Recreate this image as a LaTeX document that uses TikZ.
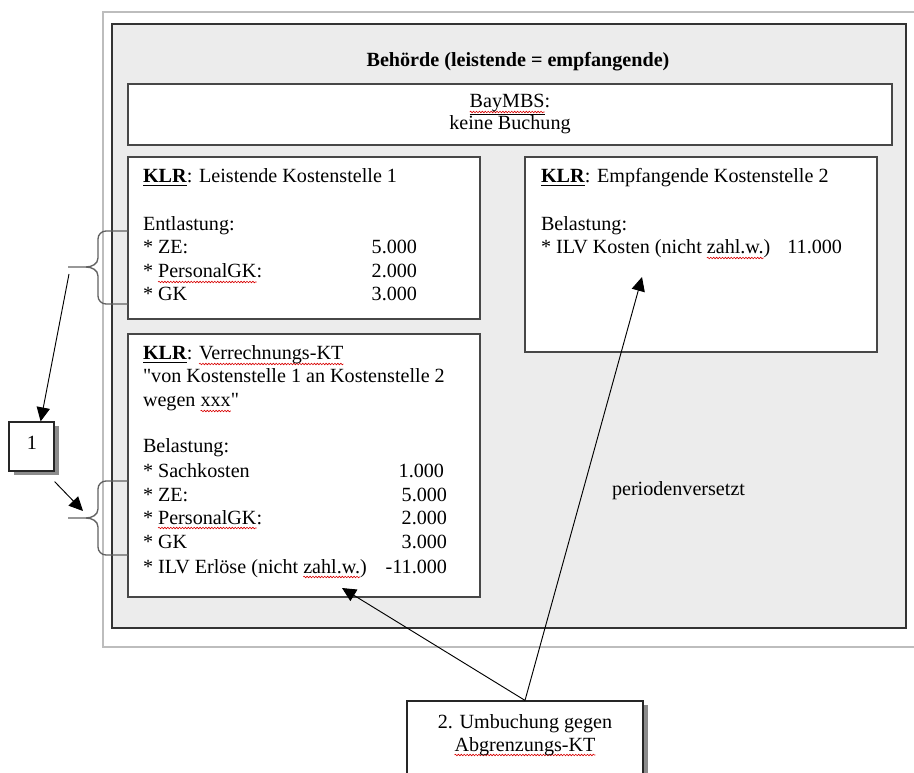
\documentclass[tikz,border=0pt]{standalone}
\usepackage{fontspec}
\setmainfont{Liberation Serif}
\usetikzlibrary{arrows.meta,calc,decorations.pathmorphing,fit,shadows}

\definecolor{boxgray}{HTML}{ECECEC}
\definecolor{framegray}{HTML}{BDBDBD}

% straight double quote, set as a glyph so that no ligature mapping curls it
\newcommand\dq{\XeTeXglyph\XeTeXcharglyph"22\relax}

% red wavy spell-check underline below a word
\newsavebox\sqbox
\newcommand\sqw[1]{\sbox\sqbox{#1}\tikz[overlay]\draw[squig] (0pt,-3pt) -- (\wd\sqbox,-3pt);\usebox\sqbox}

\tikzset{
  squig/.style={draw=red!85!black, line width=0.45pt, decorate,
    decoration={snake, amplitude=0.6pt, segment length=2.2pt}},
  txt/.style={font=\fontsize{15.1}{18}\selectfont, inner sep=0pt, outer sep=0pt, anchor=base west},
  num/.style={txt, anchor=base east},
  ctr/.style={txt, anchor=base},
  panel/.style={draw=black!72, line width=1.2pt, fill=white, inner sep=0pt},
  shadowed/.style={panel, line width=0.9pt, draw=black!85,
    drop shadow={shadow xshift=3.5pt, shadow yshift=-3pt, fill=black!45, opacity=1}},
  brace/.style={draw=black!62, line width=1pt},
  arr/.style={draw=black, line width=0.7pt, -{Triangle[length=10.5pt, width=10pt]}},
}

\begin{document}
\begin{tikzpicture}[x=0.75pt, y=-0.75pt]
  \fill[white] (0,0) rectangle (914,773);
  \useasboundingbox (0,0) rectangle (914,773);
  \clip (0,0) rectangle (914,773);

  % page frame and the authority area
  \node[fit={(103,12) (920,647)}, draw=framegray, line width=1.5pt, inner sep=0pt] (page) {};
  \node[fit={(112,24) (906,628)}, draw=black!80, fill=boxgray, line width=1.5pt, inner sep=0pt] (beh) {};
  \node[ctr] (title) at (518,67) {\bfseries Behörde (leistende = empfangende)};

  % BayMBS
  \node[panel, fit={(128,84) (892,145)}] (bay) {};
  \node[ctr] (bay1) at (510,108) {\underline{\sqw{BayMBS}}:};
  \node[ctr] (bay2) at (510,130) {keine Buchung};

  % supplying cost centre
  \node[panel, fit={(128,157) (480,319)}] (ks1) {};
  \node[txt] (k1t) at (143,183) {\underline{\textbf{KLR}}: Leistende Kostenstelle 1};
  \node[txt] (k1a) at (143,231) {Entlastung:};
  \node[txt] (k1b) at (143,254) {* ZE:};
  \node[num] (k1bv) at (417,254) {5.000};
  \node[txt] (k1c) at (143,278) {* \sqw{PersonalGK}:};
  \node[num] (k1cv) at (417,278) {2.000};
  \node[txt] (k1d) at (143,301) {* GK};
  \node[num] (k1dv) at (417,301) {3.000};

  % receiving cost centre
  \node[panel, fit={(525,157) (877,352)}] (ks2) {};
  \node[txt] (k2t) at (541,183) {\underline{\textbf{KLR}}: Empfangende Kostenstelle 2};
  \node[txt] (k2a) at (541,231) {Belastung:};
  \node[txt] (k2b) at (541,254) {* ILV Kosten (nicht \sqw{zahl.w.})};
  \node[num] (k2bv) at (842,254) {11.000};

  % clearing cost unit
  \node[panel, fit={(128,334) (480,597)}] (verr) {};
  \node[txt] (vt) at (143,360) {\underline{\textbf{KLR}}: \sqw{Verrechnungs-KT}};
  \node[txt] (va) at (143,383) {\dq von Kostenstelle 1 an Kostenstelle 2};
  \node[txt] (vb) at (143,407) {wegen \sqw{xxx}\dq};
  \node[txt] (vc) at (143,453) {Belastung:};
  \node[txt] (vd) at (143,477) {* Sachkosten};
  \node[num] (vdv) at (444,477) {1.000};
  \node[txt] (ve) at (143,501) {* ZE:};
  \node[num] (vev) at (447,501) {5.000};
  \node[txt] (vf) at (143,524) {* \sqw{PersonalGK}:};
  \node[num] (vfv) at (447,524) {2.000};
  \node[txt] (vg) at (143,548) {* GK};
  \node[num] (vgv) at (447,548) {3.000};
  \node[txt] (vh) at (143,573) {* ILV Erlöse (nicht \sqw{zahl.w.})};
  \node[num] (vhv) at (447,573) {-11.000};

  \node[txt] (per) at (612,495) {periodenversetzt};

  % braces grouping the cost lines
  \draw[brace] (128,231) -- (106,231) to[out=180,in=90] (98,239) -- (98,258)
    to[out=-90,in=0] (86,267) -- (68,267);
  \draw[brace] (86,267) to[out=0,in=90] (98,276) -- (98,296)
    to[out=-90,in=180] (106,304) -- (128,304);
  \draw[brace] (128,481) -- (106,481) to[out=180,in=90] (98,489) -- (98,509)
    to[out=-90,in=0] (86,518) -- (68,518);
  \draw[brace] (86,518) to[out=0,in=90] (98,527) -- (98,547)
    to[out=-90,in=180] (106,555) -- (128,555);

  % step 1
  \node[shadowed, fit={(9,422) (54,471)}] (one) {};
  \node[ctr] (onet) at (32,450) {1};
  \coordinate (a1s) at (69,274);
  \coordinate (a2e) at (83,511);
  \draw[arr] (a1s) -- (one.70);
  \draw[arr] ($(one.south east)+(0,10)$) -- (a2e);

  % step 2
  \node[shadowed, fit={(407,701) (643,800)}] (umb) {};
  \node[ctr] (umb1) at (525,728) {2. Umbuchung gegen};
  \node[ctr] (umb2) at (525,751) {\sqw{Abgrenzungs-KT}};
  \coordinate (tv) at (342,588);
  \coordinate (te) at (642,277);
  \draw[arr] (umb.north) -- (tv);
  \draw[arr] (umb.north) -- (te);
\end{tikzpicture}
\end{document}
